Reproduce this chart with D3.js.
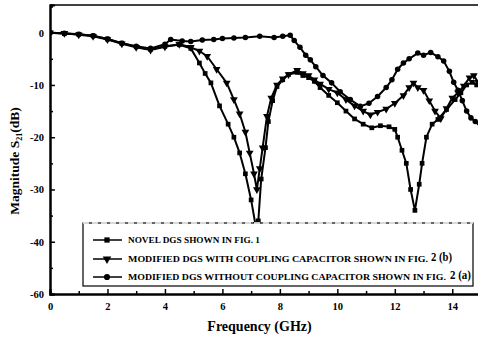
<!DOCTYPE html>
<html>
<head>
<meta charset="utf-8">
<script src="https://cdn.jsdelivr.net/npm/d3@7/dist/d3.min.js"></script>
<style>
  body { margin: 0; background: #fff; }
  text { font-family: "Liberation Serif", "DejaVu Serif", serif; font-weight: bold; fill: #000; }
</style>
</head>
<body>
<script>
// frequency (GHz) / S21 (dB)
var novelX = [0, 0.5, 1.0, 1.5, 2.0, 2.5, 3.0, 3.5, 4.0, 4.5, 4.9, 5.2, 5.4, 5.6, 5.9, 6.2, 6.4, 6.6, 6.8, 7.0, 7.15, 7.25, 7.35, 7.5, 7.6, 7.75, 7.9, 8.1, 8.3, 8.6, 8.8, 9.0, 9.2, 9.4, 9.7, 10.0, 10.3, 10.6, 10.9, 11.2, 11.5, 11.8, 12.0, 12.1, 12.25, 12.4, 12.55, 12.7, 12.85, 12.95, 13.1, 13.3, 13.5, 13.8, 14.1, 14.3, 14.5, 14.7, 14.85, 15];
var novelY = [0, -0.2, -0.3, -0.6, -1.2, -2.0, -2.7, -3.2, -2.6, -2.3, -3.0, -5.8, -7.8, -9.6, -14, -17.5, -20, -23, -27, -32, -36.7, -36, -28, -22, -17, -13, -10.3, -9, -8, -7.6, -8.2, -8.6, -9.3, -10.5, -12, -13.4, -15, -16.5, -17.5, -18.2, -17.8, -18, -18.5, -20, -22.5, -25, -30, -34, -29, -25, -20, -17.5, -16.6, -14.7, -12.8, -11.5, -10, -9.5, -10, -10.5];

var withCapX = [0, 0.5, 1.0, 1.5, 2.0, 2.5, 3.0, 3.5, 4.0, 4.5, 4.9, 5.2, 5.47, 5.8, 6.15, 6.4, 6.6, 6.8, 6.95, 7.1, 7.2, 7.3, 7.4, 7.55, 7.7, 7.9, 8.1, 8.3, 8.6, 8.8, 9.0, 9.2, 9.4, 9.7, 10.0, 10.3, 10.6, 10.9, 11.15, 11.4, 11.7, 12.0, 12.3, 12.5, 12.65, 12.8, 13.0, 13.2, 13.4, 13.6, 13.8, 14.0, 14.2, 14.4, 14.6, 14.75, 14.9, 15];
var withCapY = [0, -0.1, -0.4, -0.7, -1.3, -2.1, -2.8, -3.3, -2.7, -2.2, -2.8, -3.5, -4.5, -7, -9.6, -12.8, -15.5, -19, -23, -27, -30, -26, -22, -16, -12.5, -10, -8.8, -8, -7.2, -7.8, -8.2, -9, -9.8, -10.8, -11.5, -12.8, -14, -15, -15.7, -15.2, -14.6, -13.5, -12, -10.5, -9.6, -10.5, -11, -13, -15, -16.4, -14.5, -12.5, -11.5, -10.2, -8.6, -8.2, -9.5, -10];

var noCapX = [0, 0.5, 1.0, 1.5, 2.0, 2.5, 3.0, 3.5, 4.0, 4.2, 4.6, 4.9, 5.3, 5.7, 6.0, 6.4, 6.8, 7.3, 7.8, 8.1, 8.36, 8.5, 8.7, 8.9, 9.06, 9.25, 9.5, 9.8, 10.1, 10.45, 10.8, 11.1, 11.4, 11.7, 11.9, 12.1, 12.3, 12.5, 12.8, 13.0, 13.25, 13.5, 13.7, 13.9, 14.05, 14.2, 14.35, 14.5, 14.65, 14.8, 15];
var noCapY = [0, -0.1, -0.3, -0.6, -1.2, -2.0, -2.6, -3.0, -2.2, -1.3, -1.6, -1.7, -1.4, -1.3, -1.1, -1.0, -0.9, -0.7, -0.9, -0.7, -0.5, -1.5, -2.8, -4.3, -5.2, -6.5, -8.2, -9.6, -11.3, -12.8, -14.1, -13.5, -12.2, -10.5, -9, -7, -5.8, -5.0, -3.9, -4.3, -3.8, -4.6, -5.4, -7.4, -9.5, -11, -13, -15, -16.3, -17, -18];

var xTicks = [0, 2, 4, 6, 8, 10, 12, 14];
var yTicks = [0, -10, -20, -30, -40, -50];
var yTickLabels = ["0", "-10", "-20", "-30", "-40", "-60"];
var legendLabels = ["NOVEL DGS SHOWN IN FIG. 1",
                    "MODIFIED DGS WITH COUPLING CAPACITOR SHOWN IN FIG.",
                    "MODIFIED DGS WITHOUT COUPLING CAPACITOR SHOWN IN FIG."];
var legendSuffix = ["", "2 (b)", "2 (a)"];

var width = 478, height = 339;
var margin = { top: 5, right: -3, bottom: 45, left: 50 };

var svg = d3.select('body').append('svg')
  .attr('width', width)
  .attr('height', height);

var x = d3.scaleLinear().domain([0, 15]).range([margin.left, width - margin.right]);
var y = d3.scaleLinear().domain([-50, 5.3]).range([height - margin.bottom, margin.top]);

// frame (top line and left/bottom axes)
svg.append('line')
  .attr('x1', x(0)).attr('x2', x(15))
  .attr('y1', y(5.3)).attr('y2', y(5.3))
  .attr('stroke', '#000').attr('stroke-width', 1.5);

var xAxis = d3.axisBottom(x).tickValues(xTicks).tickSize(-5).tickPadding(9)
  .tickFormat(d3.format('d'));
var xMinor = d3.axisBottom(x).tickValues(d3.range(1, 15, 2)).tickSize(-3).tickFormat('');
var yAxis = d3.axisLeft(y).tickValues(yTicks).tickSize(-5).tickPadding(6)
  .tickFormat(function(d, i) { return yTickLabels[i]; });
var yMinor = d3.axisLeft(y).tickValues([5, -5, -15, -25, -35, -45]).tickSize(-3).tickFormat('');

function styleAxis(g) {
  g.select('.domain').attr('stroke', '#000').attr('stroke-width', 2);
  g.selectAll('.tick line').attr('stroke', '#000').attr('stroke-width', 1.5);
  g.selectAll('.tick text').style('font-size', '10.5px').style('font-family', '"Liberation Serif", serif').style('font-weight', 'bold');
}

svg.append('g').attr('transform', 'translate(0,' + y(-50) + ')').call(xMinor).call(styleAxis);
svg.append('g').attr('transform', 'translate(0,' + y(-50) + ')').call(xAxis).call(styleAxis);
svg.append('g').attr('transform', 'translate(' + x(0) + ',0)').call(yMinor).call(styleAxis);
svg.append('g').attr('transform', 'translate(' + x(0) + ',0)').call(yAxis).call(styleAxis);

svg.append('clipPath').attr('id', 'plot')
  .append('rect')
  .attr('x', x(0)).attr('y', y(5.3))
  .attr('width', x(15) - x(0)).attr('height', y(-50) - y(5.3));

var series = [
  { xs: novelX, ys: novelY, symbol: d3.symbolSquare, size: 22, rot: 0 },
  { xs: withCapX, ys: withCapY, symbol: d3.symbolTriangle, size: 26, rot: 180 },
  { xs: noCapX, ys: noCapY, symbol: d3.symbolCircle, size: 24, rot: 0 }
];

var line = d3.line()
  .x(function(d) { return x(d[0]); })
  .y(function(d) { return y(d[1]); });

var plot = svg.append('g').attr('clip-path', 'url(#plot)');

series.forEach(function(s) {
  var pts = s.xs.map(function(v, i) { return [v, s.ys[i]]; });
  plot.append('path')
    .datum(pts)
    .attr('d', line)
    .attr('fill', 'none')
    .attr('stroke', '#000')
    .attr('stroke-width', 2)
    .attr('stroke-linejoin', 'round');
  plot.selectAll(null)
    .data(pts)
    .enter()
    .append('path')
    .attr('d', d3.symbol().type(s.symbol).size(s.size))
    .attr('transform', function(d) {
      return 'translate(' + x(d[0]) + ',' + y(d[1]) + ') rotate(' + s.rot + ')';
    })
    .attr('fill', '#000');
});

// legend
var lg = svg.append('g');
lg.append('rect')
  .attr('x', 83).attr('y', 223)
  .attr('width', 390).attr('height', 63)
  .attr('fill', '#fff')
  .attr('stroke', '#000').attr('stroke-width', 1.2);
lg.append('line')
  .attr('x1', 83).attr('x2', 473).attr('y1', 223).attr('y2', 223)
  .attr('stroke', '#fff').attr('stroke-width', 1.5).attr('stroke-dasharray', '6,3');

var rowY = [240, 259, 277];
var textLen = [132, 300, 318];
var suffixX = [0, 431, 450];

series.forEach(function(s, i) {
  lg.append('line')
    .attr('x1', 93).attr('x2', 122)
    .attr('y1', rowY[i]).attr('y2', rowY[i])
    .attr('stroke', '#000').attr('stroke-width', 1.5);
  lg.append('path')
    .attr('d', d3.symbol().type(s.symbol).size(s.size + 6))
    .attr('transform', 'translate(107,' + rowY[i] + ') rotate(' + s.rot + ')')
    .attr('fill', '#000');
  lg.append('text')
    .attr('x', 128).attr('y', rowY[i] + 3)
    .attr('textLength', textLen[i])
    .attr('lengthAdjust', 'spacingAndGlyphs')
    .style('font-size', '8px')
    .text(legendLabels[i]);
  if (legendSuffix[i]) {
    lg.append('text')
      .attr('x', suffixX[i]).attr('y', rowY[i] + 2)
      .attr('textLength', 21)
      .attr('lengthAdjust', 'spacingAndGlyphs')
      .style('font-size', '12px')
      .text(legendSuffix[i]);
  }
});

// axis titles
svg.append('text')
  .attr('x', (x(0) + x(15)) / 2 - 6)
  .attr('y', 331)
  .attr('text-anchor', 'middle')
  .style('font-size', '14px')
  .text('Frequency (GHz)');

var yl = svg.append('text')
  .attr('transform', 'translate(19,161) rotate(-90)')
  .attr('text-anchor', 'middle')
  .style('font-size', '13.5px');
yl.append('tspan').text('Magnitude S');
yl.append('tspan').attr('dy', 3).style('font-size', '8px').text('21');
yl.append('tspan').attr('dy', -3).text('(dB)');
</script>
</body>
</html>
